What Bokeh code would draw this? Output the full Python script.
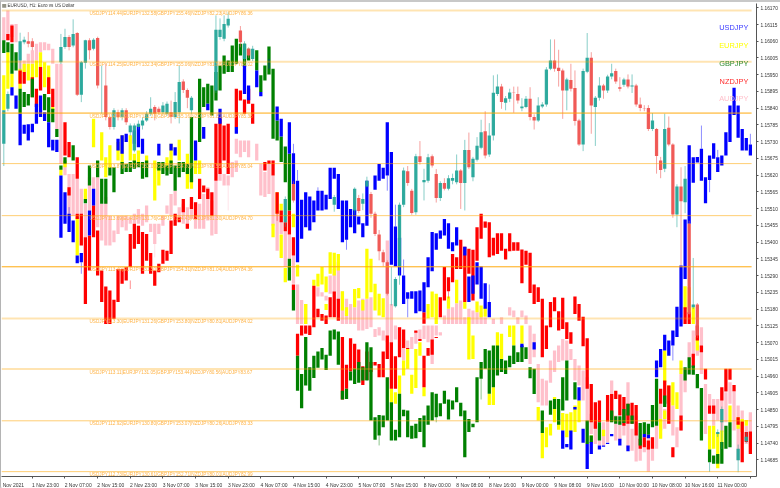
from bokeh.plotting import figure
from bokeh.embed import file_html
from bokeh.resources import INLINE
from bokeh.models import FixedTicker, LinearAxis, Range1d
from bokeh.core.properties import value

# All prices in points above 1.14000 (1 point = 0.00001)
PRICE_TICKS = [2170 - 55 * k for k in range(28)]
PRICE_LABELS = ["%.5f" % (1.14 + t / 1e5) for t in PRICE_TICKS]
TIME_TICKS = [0] + [7 + 8 * k for k in range(23)]
TIME_LABELS = ["Nov 2021", "1 Nov 23:00", "2 Nov 07:00", "2 Nov 15:00", "2 Nov 23:00", "3 Nov 07:00", "3 Nov 15:00",
               "3 Nov 23:00", "4 Nov 07:00", "4 Nov 15:00", "4 Nov 23:00", "5 Nov 07:00", "5 Nov 15:00", "8 Nov 00:00",
               "8 Nov 08:00", "8 Nov 16:00", "9 Nov 00:00", "9 Nov 08:00", "9 Nov 16:00", "10 Nov 00:00", "10 Nov 08:00",
               "10 Nov 16:00", "11 Nov 00:00", "11 Nov 08:00"]

LEVELS = [2161, 1993, 1824, 1658, 1487, 1319, 1149, 983, 813, 646]
LEVEL_TEXTS = [
    "USDJPY114.44|EURJPY132.58|GBPJPY155.46|NZDJPY82.23|AUDJPY86.36",
    "USDJPY114.25|EURJPY132.34|GBPJPY155.06|NZDJPY81.98|AUDJPY86.02",
    "USDJPY114.06|EURJPY132.23|GBPJPY155.16|NZDJPY81.81|AUDJPY85.38",
    "USDJPY113.87|EURJPY132.00|GBPJPY154.80|NZDJPY81.55|AUDJPY85.04",
    "USDJPY113.69|EURJPY131.76|GBPJPY154.43|NZDJPY81.30|AUDJPY84.70",
    "USDJPY113.49|EURJPY131.50|GBPJPY154.31|NZDJPY81.04|AUDJPY84.36",
    "USDJPY113.30|EURJPY131.26|GBPJPY153.80|NZDJPY80.81|AUDJPY84.02",
    "USDJPY113.11|EURJPY131.05|GBPJPY153.44|NZDJPY80.56|AUDJPY83.67",
    "USDJPY112.92|EURJPY130.80|GBPJPY153.07|NZDJPY80.26|AUDJPY83.33",
    "USDJPY112.73|EURJPY130.61|GBPJPY152.71|NZDJPY80.01|AUDJPY82.99",
]
LEVEL_WEIGHT = ["pale", "pale", "strong", "mid", "mid", "strong", "pale", "pale", "mid", "mid"]

LEGEND_NAMES = ["USDJPY", "EURJPY", "GBPJPY", "NZDJPY", "AUDJPY"]
LEGEND_Y = [2105, 2046, 1988, 1929, 1871]
LEGEND_COLORS = ["#3a3aff", "#ffff00", "#2e8b2e", "#ff2a2a", "#ffc0cb"]

USDJPY = [(2,1909,1882),(3,1882,1838),(4,1822,1718),(5,1786,1756),(6,1787,1734),(7,1789,1761),(8,1855,1789),(9,1882,1811),(10,1827,1798),(11,1794,1712),(12,1736,1701),(13,1736,1696),(14,1619,1414),(15,1564,1460),(16,1493,1433),(17,1471,1400),(18,1356,1331),(19,1364,1334),(21,1504,1422),(22,1575,1520),(28,1740,1701),(29,1751,1690),(30,1756,1729),(32,1767,1723),(33,1783,1712),(34,1740,1690),(38,1723,1685),(41,1723,1701),(42,1712,1685),(47,1734,1668),(49,1778,1740),(50,1855,1833),(53,1838,1789),(57,1778,1756),(59,1980,1887),(60,1915,1866),(62,1964,1909),(63,1893,1879),(67,1846,1800),(68,1805,1747),(70,1794,1690),(71,1692,1591),(72,1602,1334),(73,1539,1411),(74,1564,1449),(75,1550,1438),(76,1537,1465),(77,1569,1504),(78,1569,1504),(79,1556,1507),(80,1644,1542),(81,1644,1608),(82,1624,1509),(83,1537,1400),(84,1537,1408),(85,1509,1449),(86,1506,1429),(87,1484,1458),(88,1462,1416),(89,1602,1454),(91,1619,1572),(92,1657,1602),(93,1644,1608),(94,1794,1619),(95,1696,1326),(96,1451,1320),(97,1414,1290),(98,1290,1197),(99,1235,1214),(100,1239,1214),(101,1239,1166),(102,1241,1173),(103,1268,1170),(104,1350,1252),(105,1433,1304),(106,1429,1375),(107,1438,1411),(108,1476,1422),(109,1462,1378),(110,1400,1370),(111,1449,1389),(113,1385,1356),(114,1287,1203),(115,1290,1230),(116,1334,1261),(117,1320,1214),(118,1265,1181),(119,1203,1153),(127,1066,1055),(130,1071,1047),(137,781,721),(138,737,726),(139,781,719),(140,858,850),(141,923,880),(142,787,741),(143,737,655),(144,743,704),(146,732,719),(147,732,728),(148,741,737),(149,770,762),(151,754,732),(153,732,713),(157,770,759),(158,767,756),(160,1011,956),(161,1049,989),(162,1096,1044),(163,1077,1027),(164,1110,1060),(165,1188,1088),(166,1323,1123),(167,1474,1279),(168,1718,1460),(169,1679,1595),(170,1680,1662),(171,1707,1602),(172,1613,1528),(173,1685,1604),(174,1725,1674),(175,1679,1630),(176,1685,1652),(177,1761,1685),(178,1849,1729),(179,1907,1818),(180,1849,1743),(181,1772,1701),(182,1742,1701),(183,1721,1685)]
USDJPY_WICKS = [(16,1515,1493),(19,1334,1296),(65,2002,1970),(71,1723,1692),(72,1637,1602),(77,1580,1569),(84,1408,1375),(94,1619,1569),(96,1523,1451),(98,1343,1290),(99,1214,1153),(119,1261,1203),(164,1060,1011),(171,1783,1707),(173,1604,1564),(175,1703,1679),(183,1756,1721)]

GBPJPY = [(0,2063,2021),(1,2057,2024),(2,2052,1953),(3,2024,1964),(4,1904,1822),(5,1893,1844),(6,1887,1849),(7,1937,1876),(10,1887,1833),(11,1876,1794),(12,1838,1794),(13,1772,1745),(14,1652,1638),(15,1679,1657),(17,1718,1668),(20,1542,1528),(21,1652,1586),(23,1668,1613),(24,1608,1526),(25,1608,1526),(26,1646,1619),(27,1646,1564),(29,1663,1624),(30,1657,1630),(31,1663,1630),(32,1668,1641),(33,1663,1646),(34,1663,1608),(35,1668,1613),(38,1663,1635),(39,1663,1624),(40,1652,1619),(41,1668,1624),(42,1652,1569),(43,1663,1613),(44,1663,1630),(45,1657,1624),(46,1811,1597),(48,1937,1729),(49,1909,1844),(50,1920,1855),(51,1915,1816),(52,1959,1865),(53,1980,1898),(54,2013,1953),(55,1997,1959),(56,2046,1959),(57,2068,1986),(58,2052,2013),(59,2052,1975),(60,2035,1997),(62,2030,1964),(63,1948,1893),(64,1980,1931),(65,2043,1951),(66,1970,1740),(67,1800,1734),(68,1747,1663),(69,1714,1597),(70,1690,1504),(70,1345,1274),(71,1243,1175),(72,1027,912),(73,967,854),(74,1088,929),(75,989,912),(76,1027,954),(77,1041,987),(78,1052,1014),(79,1030,980),(80,1110,1027),(81,1113,1080),(82,1106,997),(83,912,883),(84,918,885),(85,975,945),(86,984,934),(87,1006,938),(88,989,945),(89,1071,945),(90,1055,814),(91,825,751),(92,832,765),(93,830,792),(94,956,814),(95,874,748),(96,784,748),(97,902,759),(98,849,828),(99,847,759),(100,797,754),(101,803,756),(102,822,776),(103,830,726),(104,863,800),(105,907,814),(106,902,825),(107,871,828),(108,912,869),(109,883,817),(110,880,850),(111,923,874),(112,872,828),(113,847,693),(114,819,776),(115,803,792),(116,956,808),(117,1006,951),(118,1049,984),(119,1044,902),(120,1060,923),(121,1060,962),(122,1016,973),(123,1011,967),(124,1027,989),(125,1060,1000),(126,1038,1006),(127,1060,1006),(128,1055,1016),(129,989,953),(130,984,901),(132,847,773),(134,880,833),(135,885,852),(136,885,800),(137,956,847),(138,1011,880),(140,940,883),(143,814,737),(144,765,741),(146,808,748),(149,847,808),(150,828,803),(151,828,800),(152,852,806),(153,869,830),(154,830,803),(156,806,732),(157,808,770),(158,803,767),(159,865,792),(160,951,797),(162,896,858),(167,989,945),(168,1022,965),(169,995,964),(170,967,920),(171,921,748),(173,719,677),(174,699,672),(175,704,672),(176,743,672),(177,797,721),(178,808,726)]
GBPJPY_WICKS = [(92,765,732),(106,825,808),(117,951,883)]

EURJPY = [(0,1948,1833),(1,2024,1904),(2,1953,1909),(4,1970,1904),(5,1986,1959),(6,1986,1931),(7,1986,1937),(8,1997,1942),(9,2024,1975),(10,1991,1909),(11,1980,1887),(12,1844,1833),(14,1638,1619),(15,1668,1646),(18,1482,1356),(20,1575,1542),(22,1805,1712),(24,1761,1668),(25,1679,1613),(26,1718,1646),(28,1729,1668),(29,1751,1657),(31,1751,1668),(32,1690,1657),(33,1701,1657),(35,1685,1657),(37,1668,1537),(38,1657,1586),(40,1679,1635),(41,1723,1657),(43,1736,1668),(45,1690,1575),(46,1668,1575),(47,1668,1624),(48,1668,1624),(66,1460,1416),(67,1564,1493),(68,1526,1504),(68,1425,1348),(69,1315,1268),(71,1493,1449),(72,1326,1287),(74,1197,1131),(76,1276,1257),(77,1296,1254),(78,1318,1261),(79,1287,1235),(79,1197,1177),(80,1367,1296),(81,1365,1290),(82,1361,1307),(83,1239,1175),(84,1186,1157),(86,1246,1186),(87,1249,1216),(88,1210,1175),(89,1378,1214),(90,1345,1235),(91,1263,1175),(92,1230,1159),(93,1216,1153),(95,918,874),(96,907,869),(97,962,902),(98,1011,962),(99,1049,984),(100,964,902),(101,1049,921),(102,1071,1027),(103,923,894),(104,1197,1150),(105,1238,1153),(106,1230,1131),(109,1221,1181),(111,1276,1199),(113,1203,1181),(114,1153,1014),(115,1093,1016),(116,1205,1170),(117,1192,1153),(118,1186,1155),(119,902,865),(120,923,865),(121,1104,1016),(122,1099,1016),(124,1126,1088),(125,1126,1060),(127,1126,1066),(131,858,814),(132,773,690),(133,792,726),(134,803,765),(135,891,808),(136,819,784),(137,839,781),(138,836,759),(139,841,776),(140,863,776),(141,880,808),(144,765,743),(147,784,762),(160,872,808),(161,819,754),(162,1044,940),(162,847,819),(163,929,874),(164,940,863),(165,907,852),(166,1011,967),(167,1255,1181),(168,1252,1170),(169,1186,1131),(170,1088,1044),(173,797,719),(174,797,721),(175,773,657),(176,781,721),(178,863,808),(180,825,787),(181,819,776),(182,816,797)]

NZDJPY = [(1,2084,2063),(2,2112,2057),(4,1964,1920),(5,1959,1920),(7,1942,1876),(8,1904,1844),(9,1975,1898),(11,1942,1887),(12,1904,1844),(15,1794,1685),(16,1729,1679),(16,1580,1553),(18,1679,1608),(18,1493,1476),(19,1493,1389),(20,1416,1197),(21,1422,1307),(22,1520,1416),(23,1438,1290),(24,1307,1203),(25,1254,1131),(26,1241,1131),(27,1211,1148),(28,1312,1203),(29,1312,1263),(30,1318,1274),(31,1427,1318),(32,1460,1378),(33,1454,1394),(34,1433,1296),(35,1427,1339),(36,1364,1296),(37,1307,1257),(38,1329,1301),(39,1375,1329),(40,1372,1339),(41,1471,1361),(42,1493,1454),(43,1482,1465),(44,1542,1498),(45,1460,1444),(46,1548,1509),(47,1531,1476),(48,1608,1542),(49,1586,1564),(50,1575,1542),(51,1564,1487),(52,1789,1602),(53,1811,1624),(54,1783,1668),(55,1789,1624),(57,1904,1778),(58,1898,1865),(59,1869,1822),(60,1904,1855),(61,1855,1789),(64,1663,1635),(65,1668,1657),(66,1668,1619),(67,1564,1493),(68,1504,1465),(69,1465,1436),(70,1504,1425),(71,1416,1356),(71,1261,1243),(72,1099,1027),(73,1126,1093),(74,1126,1099),(75,1126,1095),(76,1257,1120),(77,1181,1153),(78,1164,1142),(79,1159,1131),(80,1219,1153),(81,1238,1153),(82,1214,1142),(83,1088,883),(84,997,918),(85,1084,975),(86,1066,984),(87,1047,984),(88,992,931),(89,1041,947),(90,1006,973),(91,1006,995),(92,1000,956),(93,1041,956),(94,1093,1016),(95,1071,918),(96,1025,918),(97,1120,1022),(98,1113,1052),(99,1052,1049),(101,1110,1102),(102,1082,1075),(103,1027,923),(103,1170,1132),(104,1052,1027),(105,1080,1030),(106,1088,1085),(107,1219,1153),(108,1318,1208),(109,1285,1239),(110,1361,1268),(111,1350,1312),(112,1408,1312),(113,1385,1203),(114,1378,1296),(115,1375,1208),(116,1449,1339),(117,1493,1411),(118,1468,1447),(119,1465,1350),(120,1414,1356),(121,1429,1361),(122,1429,1372),(123,1378,1343),(124,1429,1370),(125,1400,1372),(126,1400,1372),(127,1376,1265),(128,1372,1326),(129,1365,1233),(130,1261,1197),(131,1252,1203),(132,1214,1022),(133,1126,1049),(134,1203,1120),(135,1219,1173),(136,1173,1110),(137,1217,1115),(138,1137,1082),(139,1104,1066),(140,1221,1164),(141,1197,1142),(142,1155,1058),(143,1084,918),(144,934,808),(145,874,787),(146,880,808),(148,898,811),(149,901,814),(150,912,885),(151,899,830),(152,891,797),(153,869,803),(154,872,803),(155,865,765),(156,754,721),(157,759,726),(158,748,719),(159,759,721),(161,918,869),(162,945,869),(163,929,803),(164,726,693),(166,830,781),(167,1186,1131),(168,1170,1131),(169,1033,989),(170,1126,1077),(171,1060,1038),(172,984,949),(173,863,836),(174,863,836),(176,923,880),(177,984,909),(178,984,948),(179,931,910),(180,825,800),(181,811,677),(182,776,743),(183,778,704)]
NZDJPY_WICKS = [(31,1274,1246),(67,1493,1470),(109,1239,1215)]

AUDJPY = [(0,2139,2063),(1,2161,2063),(2,2117,2074),(3,2117,2057),(4,1997,1904),(5,1997,1959),(6,2019,1986),(7,2030,1986),(8,2052,1997),(9,2057,2024),(10,2057,2030),(11,2052,2030),(12,2035,1986),(13,1986,1772),(14,1986,1657),(15,1668,1620),(16,1624,1487),(17,1624,1487),(18,1608,1493),(19,1575,1476),(20,1526,1416),(21,1613,1504),(22,1613,1504),(23,1613,1449),(24,1526,1405),(25,1548,1389),(26,1487,1389),(27,1438,1400),(28,1487,1427),(29,1487,1449),(30,1487,1438),(31,1482,1460),(32,1493,1460),(33,1509,1460),(34,1493,1454),(35,1520,1465),(36,1460,1433),(37,1460,1394),(38,1460,1427),(39,1487,1454),(40,1520,1493),(41,1558,1487),(42,1569,1520),(43,1515,1471),(44,1526,1460),(45,1515,1444),(46,1526,1476),(47,1531,1444),(48,1526,1444),(49,1558,1444),(50,1580,1471),(51,1537,1422),(52,1602,1427),(53,1635,1602),(54,1624,1586),(55,1619,1586),(56,1663,1613),(57,1668,1630),(57,1740,1690),(58,1734,1679),(59,1734,1696),(60,1734,1679),(62,1723,1668),(63,1657,1553),(64,1630,1548),(65,1657,1558),(66,1619,1454),(67,1493,1372),(68,1504,1427),(69,1436,1318),(70,1425,1345),(71,1356,1263),(72,1261,1131),(73,1210,1131),(74,1197,1131),(77,1252,1221),(78,1235,1221),(79,1224,1208),(80,1290,1230),(81,1312,1230),(82,1334,1208),(83,1238,1131),(84,1214,1131),(85,1197,1131),(86,1186,1131),(87,1208,1110),(88,1214,1110),(89,1214,1115),(90,1219,1120),(91,1115,1088),(92,1120,1093),(93,1110,1077),(94,1405,1071),(95,1197,1071),(96,1126,1080),(97,1120,1038),(98,1082,1011),(99,1077,1052),(100,1088,1049),(101,1104,1066),(102,1113,1077),(103,1126,1082),(104,1126,1071),(105,1126,1000),(106,1126,1093),(107,1104,1093),(108,1159,1131),(109,1181,1131),(110,1186,1131),(111,1199,1131),(112,1208,1131),(113,1153,1131),(114,1181,1131),(115,1175,1131),(116,1170,1131),(117,1170,1131),(118,1153,1131),(120,1148,1131),(122,1153,1131),(124,1186,1159),(125,1175,1153),(126,1153,1131),(127,1175,1153),(128,1159,1131),(129,1126,1000),(130,1099,1022),(131,1000,874),(132,951,863),(133,945,863),(134,1011,938),(135,1044,973),(136,1060,1006),(137,1082,1011),(138,1077,1011),(139,1049,1013),(140,1016,945),(141,995,929),(142,978,880),(143,956,787),(144,836,770),(145,808,737),(146,797,732),(147,808,732),(148,814,743),(149,945,808),(150,830,748),(151,808,748),(152,836,765),(153,940,721),(154,787,715),(155,830,679),(156,797,682),(157,726,710),(158,797,646),(159,759,682),(160,797,721),(161,869,781),(162,852,787),(163,929,803),(164,863,765),(165,792,726),(166,967,781),(167,984,907),(168,1071,1011),(169,1110,1022),(170,1126,1027),(171,1120,967),(172,934,770),(173,901,863),(174,885,797),(175,885,814),(176,912,776),(177,907,808),(178,940,869),(179,912,781),(180,863,683),(181,847,797),(182,797,737),(183,841,710)]
AUDJPY_WICKS = [(55,1586,1504),(37,1394,1350)]

# EURUSD candles: index, open, close, high, low
EURUSD = [(0,1723,1833,1833,1650),(1,1838,1887,1895,1830),(4,1997,2060,2088,1965),(5,2057,2065,2075,2050),(6,2060,2052,2090,2040),(7,2060,2041,2070,2030),(14,1991,2041,2084,1985),(15,2041,2074,2101,2035),(16,2074,2041,2080,2030),(17,2046,2084,2132,2040),(18,2087,1884,2090,1880),(19,1884,1991,1995,1860),(20,1989,2063,2065,1970),(21,2063,2030,2070,2000),(22,2035,2065,2070,2030),(23,2071,1915,2075,1905),(24,1822,1822,1980,1822),(25,1915,1811,1986,1800),(26,1811,1778,1815,1770),(27,1778,1833,1840,1770),(28,1827,1811,1835,1800),(29,1811,1833,1840,1800),(30,1833,1794,1840,1785),(31,1761,1783,1790,1750),(32,1701,1783,1790,1695),(33,1778,1789,1800,1770),(34,1783,1800,1810,1770),(35,1800,1822,1830,1795),(36,1822,1838,1876,1815),(37,1844,1822,1850,1800),(38,1838,1827,1845,1820),(39,1827,1849,1860,1820),(40,1822,1855,1862,1815),(41,1827,1811,1865,1790),(42,1811,1860,1893,1805),(43,1827,1926,1980,1790),(44,1928,1900,1935,1890),(45,1900,1874,1905,1840),(46,1833,1874,1880,1820),(52,1898,2098,2145,1890),(53,2074,2098,2135,2065),(54,2068,2117,2145,2060),(55,2112,2134,2155,2105),(58,2095,2057,2110,2040),(59,2002,2052,2060,1990),(60,2035,2013,2040,2005),(61,2002,2035,2045,1995),
(69,1465,1542,1550,1450),(71,1591,1537,1600,1530),(81,1523,1548,1555,1500),(86,1504,1575,1580,1490),(87,1545,1502,1555,1495),(88,1526,1542,1560,1505),(89,1583,1602,1615,1580),(90,1558,1493,1565,1480),(91,1493,1427,1500,1420),(92,1425,1370,1440,1340),(93,1367,1334,1375,1320),(94,1334,1230,1340,1225),(95,1192,1192,1318,1192),(96,1189,1279,1285,1185),(97,1318,1523,1530,1260),(98,1523,1635,1645,1515),(99,1633,1594,1650,1585),(100,1569,1496,1575,1490),(101,1498,1682,1690,1490),(102,1682,1663,1732,1655),(103,1597,1604,1641,1537),(104,1602,1679,1690,1595),(105,1682,1652,1688,1645),(106,1624,1545,1640,1530),(107,1545,1594,1600,1535),(108,1594,1575,1610,1570),(109,1575,1610,1620,1570),(110,1602,1611,1625,1590),(111,1597,1635,1688,1590),(112,1635,1594,1640,1509),(113,1594,1703,1736,1504),(114,1703,1646,1760,1640),(115,1613,1674,1680,1600),(116,1671,1717,1745,1665),(117,1710,1761,1802,1705),(118,1764,1685,1830,1675),(119,1688,1750,1791,1680),(120,1750,1891,1948,1734),(121,1887,1911,1951,1880),(122,1911,1860,1920,1838),(123,1858,1873,1880,1833),(124,1871,1892,1904,1860),(125,1891,1890,1911,1825),(126,1887,1865,1911,1855),(127,1840,1846,1873,1830),(128,1844,1871,1880,1840),(129,1871,1811,1909,1800),(130,1811,1800,1820,1770),(131,1800,1849,1876,1795),(132,1846,1852,1860,1840),(133,1852,1967,1975,1845),(134,1970,1997,2066,1965),(135,1997,1970,2066,1960),(136,1973,1962,2032,1911),(137,1964,1898,1970,1805),(138,1898,1934,1940,1833),(139,1933,1904,1986,1895),(140,1906,1798,1964,1783),(141,1800,1721,1805,1716),(142,1721,1962,1970,1699),(143,1960,2006,2087,1955),(144,2006,1849,2024,1756),(145,1844,1874,1880,1716),(146,1874,1915,1942,1865),(147,1915,1898,1920,1871),(148,1898,1944,1950,1890),(149,1944,1955,1986,1935),(150,1962,1928,1970,1920),(151,1909,1904,1942,1895),(152,1917,1934,1940,1910),(153,1934,1911,1951,1905),(154,1911,1915,1951,1890),(155,1915,1852,1920,1845),(156,1852,1841,1875,1830),(157,1841,1840,1850,1830),(158,1841,1772,1850,1765),(159,1772,1800,1824,1765),(160,1772,1683,1775,1625),(161,1668,1637,1680,1610),(162,1641,1772,1822,1630),(163,1776,1721,1813,1715),(164,1721,1491,1725,1480),(165,1491,1583,1590,1449),(166,1583,1534,1646,1323),(167,1531,1608,1650,1495),(168,1460,1164,1470,1160),(169,1186,1195,1348,1180),(170,1195,1093,1200,1085),(176,808,852,860,720),(175,770,776,785,760),(173,650,650,677,645),(180,683,721,735,644),(182,746,761,775,740)]

BAR_WIDTH = 0.8
X_START, X_END = -0.564, 184.5
Y_START, Y_END = 630, 2184
BAR_PX = 4.08

p = figure(width=779, height=484, frame_width=755, frame_height=473,
           output_backend="svg", toolbar_location=None,
           x_range=Range1d(X_START, X_END), y_range=Range1d(Y_START, Y_END),
           x_axis_location=None, y_axis_location=None,
           min_border_left=0, min_border_right=24, min_border_top=1, min_border_bottom=10,
           background_fill_color="white", border_fill_color="white",
           outline_line_color=None,
           styles={"position": "fixed", "left": "0px", "top": "0px",
                   "border-left": "1px solid #b4b4b4", "border-top": "2px solid #c8c8c8",
                   "border-bottom": "2px solid #d4d4d4", "border-bottom-left-radius": "6px"})
p.grid.visible = False


def bars(rows, wicks, color):
    xw = [r[0] for r in wicks]
    p.segment(x0=xw, x1=xw, y0=[r[1] for r in wicks], y1=[r[2] for r in wicks],
              line_color=color, line_width=1, line_alpha=0.45)
    x = [r[0] for r in rows]
    hi = [r[1] for r in rows]
    lo = [r[2] for r in rows]
    p.vbar(x=x, top=hi, bottom=lo, width=BAR_WIDTH, fill_color=color, line_color=None)


bars(AUDJPY, AUDJPY_WICKS, "#ffc0cb")
bars(EURJPY, [], "#ffff00")
bars(NZDJPY, NZDJPY_WICKS, "#ff0000")
bars(GBPJPY, GBPJPY_WICKS, "#008000")
bars(USDJPY, USDJPY_WICKS, "#0000ff")

for up, color in ((True, "#26a69a"), (False, "#ef5350")):
    rows = [r for r in EURUSD if (r[2] >= r[1]) == up]
    xs = [r[0] for r in rows]
    p.segment(x0=xs, x1=xs, y0=[r[3] for r in rows], y1=[r[4] for r in rows],
              line_color=color, line_width=1, line_alpha=0.55)
    p.vbar(x=xs, top=[max(r[1], r[2]) for r in rows], bottom=[min(r[1], r[2]) for r in rows],
           width=BAR_WIDTH, fill_color=color, fill_alpha=0.95, line_color=None)

LINE_END = 183.3
for lev, w in zip(LEVELS, LEVEL_WEIGHT):
    width, alpha = {"pale": (2, 0.3), "strong": (1, 0.95), "mid": (1, 0.55)}[w]
    p.line([X_START, LINE_END], [lev, lev], line_color="#ffa500", line_width=width, line_alpha=alpha)

p.text(x=[21] * len(LEVELS), y=LEVELS, text=LEVEL_TEXTS, text_font=value("Liberation Sans"),
       text_font_size="4.7px", text_color="#ffb347", text_baseline="middle", y_offset=3)

p.text(x=[182.5] * 5, y=LEGEND_Y, text=LEGEND_NAMES, text_font=value("Liberation Sans"),
       text_font_size="7.4px", text_color=LEGEND_COLORS, text_align="right", text_baseline="middle")

p.quad(left=[-0.4], right=[0.6], top=[2182], bottom=[2170], fill_color="#666655", fill_alpha=0.7, line_color=None)
p.text(x=[0.9], y=[2178], text=["EURUSD, H1: Euro vs US Dollar"], text_font=value("Liberation Sans"),
       text_font_size="4.6px", text_color="#333333", text_baseline="middle")

ya = LinearAxis(ticker=FixedTicker(ticks=PRICE_TICKS),
                major_label_overrides=dict(zip(PRICE_TICKS, PRICE_LABELS)),
                major_label_text_font="Liberation Sans", major_label_text_font_size="4.8px",
                major_label_text_color="#333333", major_label_standoff=2,
                axis_line_color="#555555", major_tick_line_color="#555555",
                major_tick_in=0, major_tick_out=2, minor_tick_line_color=None)
p.add_layout(ya, "right")

# The labels start at the tick, so major (label) positions are moved by half of each
# label's width; the visible tick marks are the axis's minor ticks at the true positions.
LABEL_CENTERS = [t + (len(s) * 2.4) / 2 / BAR_PX for t, s in zip(TIME_TICKS, TIME_LABELS)]
xa = LinearAxis(ticker=FixedTicker(ticks=LABEL_CENTERS, minor_ticks=TIME_TICKS[1:]),
                major_label_overrides=dict(zip(LABEL_CENTERS, TIME_LABELS)),
                major_label_text_font="Liberation Sans", major_label_text_font_size="5px",
                major_label_text_color="#333333", major_label_standoff=3,
                axis_line_color="#555555", major_tick_line_color=None,
                major_tick_in=0, major_tick_out=0,
                minor_tick_line_color="#555555", minor_tick_in=0, minor_tick_out=2)
p.add_layout(xa, "below")

open("out.html", "w").write(file_html(p, INLINE))
